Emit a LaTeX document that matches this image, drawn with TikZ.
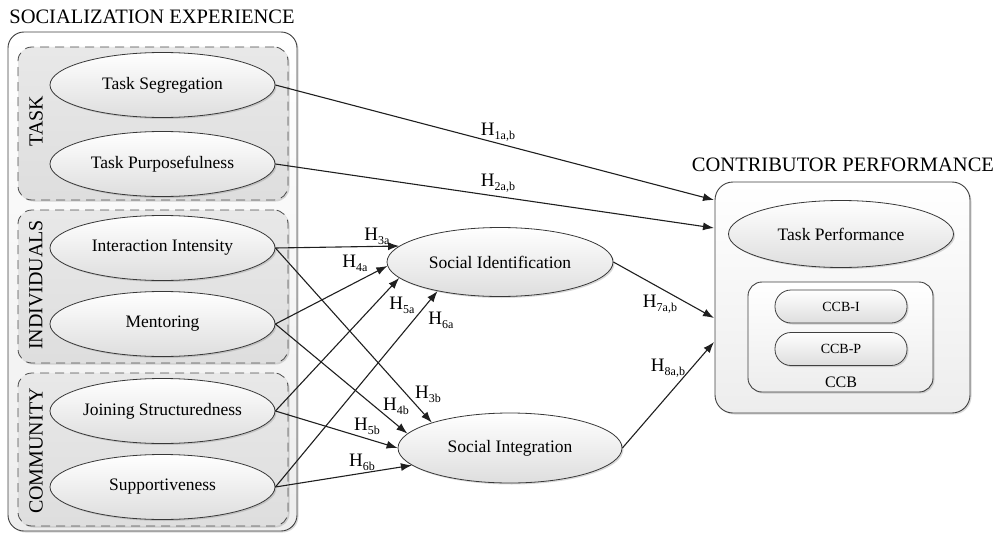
\documentclass[tikz,border=0pt]{standalone}
\usepackage{fontspec}
\setmainfont{Liberation Serif}
\usetikzlibrary{shapes.geometric,arrows.meta,shadows}
\newcommand{\hyp}[1]{H\raisebox{-4pt}{\fontsize{12}{12}\selectfont #1}}
\begin{document}
\begin{tikzpicture}[x=1pt,y=-1pt,
 lbl/.style={font=\fontsize{17.5}{20}\selectfont},
 shd/.style={drop shadow={shadow xshift=1.5pt,shadow yshift=-1.5pt,opacity=0.3}},
 ell/.style={ellipse, draw=black!78, line width=0.8pt, top color=white, bottom color=black!13,
   inner sep=0pt, minimum width=225pt, minimum height=65pt, lbl, shd},
 grp/.style={rectangle, draw=black!70, dash pattern=on 9pt off 6pt, rounded corners=14pt,
   top color=black!9, bottom color=black!13, line width=0.8pt, inner sep=0pt, shd},
 bigbox/.style={rectangle, draw=black!75, rounded corners=16pt, line width=0.9pt,
   top color=white, bottom color=black!7, inner sep=0pt, shd},
 pill/.style={rectangle, draw=black!75, rounded corners=16pt, line width=0.8pt,
   top color=white, bottom color=black!13, inner sep=0pt, minimum width=132pt,
   minimum height=33pt, font=\fontsize{14}{16}\selectfont, shd},
 conn/.style={draw=black!88, line width=1.1pt, -{Latex[length=11pt,width=8pt]}},
 hl/.style={font=\fontsize{19}{20}\selectfont, inner sep=0pt},
 ttl/.style={font=\fontsize{20.5}{22}\selectfont, inner sep=0pt},
 glbl/.style={font=\fontsize{20}{22}\selectfont, inner sep=0pt, rotate=90},
]
\useasboundingbox (0,0) rectangle (998,535);

% Titles
\node[ttl] (t1) at (152,17) {SOCIALIZATION EXPERIENCE};
\node[ttl] (t2) at (843,165) {CONTRIBUTOR PERFORMANCE};

% Left container
\node[bigbox, minimum width=289pt, minimum height=499pt] (se) at (152.5,281.5) {};
\node[grp, minimum width=270pt, minimum height=153pt] (gtask) at (153,123.5) {};
\node[grp, minimum width=270pt, minimum height=153pt] (gind) at (153,286.5) {};
\node[grp, minimum width=270pt, minimum height=153pt] (gcom) at (153,449.5) {};
\node[glbl] (ltask) at (36,121) {TASK};
\node[glbl] (lind) at (36,285) {INDIVIDUALS};
\node[glbl] (lcom) at (36,451) {COMMUNITY};

% Antecedent ellipses
\node[ell] (ts) at (162.5,85) {Task Segregation};
\node[ell] (tp) at (162.5,164) {Task Purposefulness};
\node[ell] (ii) at (162.5,248) {Interaction Intensity};
\node[ell] (me) at (162.5,324) {Mentoring};
\node[ell] (js) at (162.5,411) {Joining Structuredness};
\node[ell] (su) at (162.5,487) {Supportiveness};

% Mediators
\node[ell, minimum width=226pt, minimum height=69pt] (si) at (500,262) {Social Identification};
\node[ell, minimum width=224pt, minimum height=70pt] (sg) at (510,448) {Social Integration};

% Contributor performance
\node[bigbox, minimum width=255pt, minimum height=231pt, rounded corners=18pt] (cp) at (842.5,297.5) {};
\node[ell, minimum width=225pt, minimum height=67pt] (tperf) at (841,234) {Task Performance};
\node[bigbox, minimum width=185pt, minimum height=110pt, rounded corners=14pt] (ccb) at (840.5,337) {};
\node[pill] (ccbi) at (841,306.5) {CCB-I};
\node[pill] (ccbp) at (841,349) {CCB-P};
\node[font=\fontsize{16}{18}\selectfont, inner sep=0pt] (ccbl) at (841,382) {CCB};

% Arrow end points on the performance box
\coordinate (e1) at (714,200);
\coordinate (e2) at (714,228);
\coordinate (e7) at (714,318);
\coordinate (e8) at (714,342);

% Connectors
\draw[conn] (ts.east) -- (e1);
\draw[conn] (tp.east) -- (e2);
\draw[conn] (ii.east) -- (si.171);
\draw[conn] (me.east) -- (si.182);
\draw[conn] (js.east) -- (si.189);
\draw[conn] (su.east) -- (si.205);
\draw[conn] (ii.east) -- (sg.162);
\draw[conn] (me.east) -- (sg.172);
\draw[conn] (js.east) -- (sg.180);
\draw[conn] (su.east) -- (sg.190);
\draw[conn] (si.east) -- (e7);
\draw[conn] (sg.east) -- (e8);

% Labels
\node[hl] (h1) at (498,132) {\hyp{1a,b}};
\node[hl] (h2) at (498,183) {\hyp{2a,b}};
\node[hl] (h3a) at (377,236) {\hyp{3a}};
\node[hl] (h4a) at (355,263) {\hyp{4a}};
\node[hl] (h5a) at (402,305) {\hyp{5a}};
\node[hl] (h6a) at (441,320) {\hyp{6a}};
\node[hl] (h3b) at (428,394) {\hyp{3b}};
\node[hl] (h4b) at (396,406) {\hyp{4b}};
\node[hl] (h5b) at (367,426) {\hyp{5b}};
\node[hl] (h6b) at (362,462) {\hyp{6b}};
\node[hl] (h7) at (660,304) {\hyp{7a,b}};
\node[hl] (h8) at (668,368) {\hyp{8a,b}};
\end{tikzpicture}
\end{document}
